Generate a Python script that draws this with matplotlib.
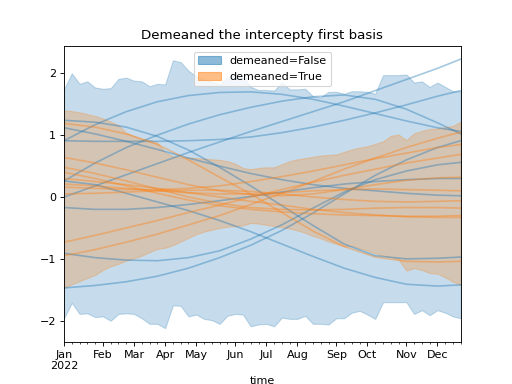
import matplotlib
matplotlib.use("Agg")
import matplotlib.pyplot as plt
from matplotlib.patches import Patch
import numpy as np
import pandas as pd

# weekly time index (52 weeks, Monday anchored)
dates = pd.date_range("2022-01-03", periods=52, freq="W-MON")

# HDI band, demeaned=False
false_upper = [1.74, 2.00, 1.83, 1.87, 1.77, 1.75, 1.76, 1.91, 1.93, 1.88, 1.87, 1.79, 1.83,
               1.82, 2.21, 2.18, 2.04, 1.95, 1.90, 1.86, 1.82, 1.93, 1.96, 1.95, 1.78, 1.73,
               1.73, 1.72, 1.85, 1.74, 1.74, 1.75, 1.63, 1.61, 1.70, 1.70, 1.67, 1.71, 1.71,
               1.70, 1.67, 1.97, 1.97, 1.97, 1.98, 1.85, 1.87, 1.78, 1.85, 1.78, 1.71, 1.71]
false_lower = [-1.96, -1.71, -1.89, -1.88, -1.94, -1.93, -2.00, -1.89, -1.88, -1.89, -1.96, -2.05, -2.05,
               -2.12, -1.75, -1.76, -1.93, -1.90, -1.97, -1.99, -2.05, -1.92, -1.89, -1.90, -2.09, -2.06,
               -2.05, -2.09, -1.95, -1.97, -1.97, -1.92, -2.05, -2.05, -2.06, -1.96, -1.96, -1.87, -1.84,
               -1.90, -1.97, -1.70, -1.70, -1.70, -1.70, -1.89, -1.83, -1.91, -1.83, -1.87, -1.93, -1.96]

# HDI band, demeaned=True
true_upper = [1.40, 1.39, 1.37, 1.34, 1.31, 1.27, 1.22, 1.16, 1.04, 0.99, 0.94, 0.92, 0.88,
              0.72, 0.66, 0.64, 0.64, 0.63, 0.62, 0.61, 0.60, 0.58, 0.54, 0.47, 0.45, 0.47,
              0.48, 0.48, 0.53, 0.58, 0.61, 0.63, 0.65, 0.67, 0.68, 0.69, 0.73, 0.77, 0.80,
              0.82, 0.86, 0.90, 0.99, 1.01, 0.92, 1.03, 1.07, 1.10, 1.11, 1.13, 1.15, 1.22]
true_lower = [-1.47, -1.41, -1.36, -1.31, -1.26, -1.18, -1.12, -1.08, -1.03, -0.99, -0.95, -0.89, -0.84,
              -0.82, -0.78, -0.72, -0.66, -0.60, -0.56, -0.53, -0.50, -0.48, -0.47, -0.46, -0.42, -0.43,
              -0.45, -0.47, -0.49, -0.51, -0.54, -0.58, -0.63, -0.67, -0.72, -0.76, -0.80, -0.79, -0.83,
              -0.87, -0.91, -0.95, -0.97, -1.01, -1.19, -1.15, -1.18, -1.23, -1.24, -1.30, -1.37, -1.42]

# sample curves, read every 4 weeks (+ last week)
sample_weeks = [0, 4, 8, 12, 16, 20, 24, 28, 32, 36, 40, 44, 48, 51]

false_samples = [
    [0.91, 1.17, 1.38, 1.54, 1.64, 1.69, 1.70, 1.66, 1.58, 1.47, 1.35, 1.23, 1.12, 1.06],
    [0.26, 0.55, 0.80, 1.00, 1.18, 1.33, 1.45, 1.55, 1.62, 1.65, 1.58, 1.42, 1.20, 1.02],
    [0.00, 0.18, 0.36, 0.54, 0.72, 0.89, 1.06, 1.22, 1.38, 1.54, 1.72, 1.90, 2.08, 2.23],
    [0.91, 0.90, 0.90, 0.90, 0.91, 0.93, 0.97, 1.04, 1.13, 1.24, 1.36, 1.49, 1.63, 1.72],
    [1.24, 1.21, 1.13, 0.98, 0.76, 0.48, 0.18, -0.14, -0.46, -0.76, -0.95, -1.00, -0.99, -0.97],
    [0.26, 0.20, 0.06, -0.08, -0.22, -0.38, -0.56, -0.76, -0.96, -1.15, -1.30, -1.41, -1.44, -1.42],
    [-1.47, -1.43, -1.37, -1.28, -1.15, -0.98, -0.78, -0.54, -0.26, 0.05, 0.35, 0.60, 0.80, 0.91],
    [-0.91, -0.98, -1.02, -1.03, -0.98, -0.87, -0.68, -0.45, -0.18, 0.08, 0.28, 0.42, 0.52, 0.56],
    [-0.17, -0.20, -0.20, -0.17, -0.12, -0.06, 0.01, 0.08, 0.15, 0.21, 0.25, 0.28, 0.30, 0.30],
    [1.12, 1.02, 0.90, 0.77, 0.63, 0.50, 0.38, 0.28, 0.20, 0.14, 0.10, 0.06, 0.03, 0.02],
]
true_samples = [
    [1.19, 1.13, 1.02, 0.85, 0.60, 0.32, 0.05, -0.25, -0.55, -0.80, -0.97, -1.04, -1.05, -1.04],
    [-0.73, -0.62, -0.50, -0.38, -0.25, -0.13, 0.00, 0.12, 0.24, 0.35, 0.45, 0.55, 0.63, 0.69],
    [-0.95, -0.85, -0.73, -0.60, -0.45, -0.30, -0.12, 0.06, 0.25, 0.45, 0.63, 0.80, 0.95, 1.05],
    [0.64, 0.55, 0.44, 0.32, 0.20, 0.10, 0.04, 0.02, 0.05, 0.12, 0.20, 0.27, 0.31, 0.32],
    [0.48, 0.38, 0.26, 0.13, 0.00, -0.10, -0.17, -0.20, -0.21, -0.20, -0.18, -0.17, -0.17, -0.18],
    [0.40, 0.30, 0.18, 0.06, -0.05, -0.14, -0.20, -0.24, -0.27, -0.29, -0.30, -0.31, -0.31, -0.30],
    [0.21, 0.18, 0.14, 0.10, 0.07, 0.05, 0.05, 0.07, 0.10, 0.12, 0.13, 0.12, 0.11, 0.10],
    [0.05, 0.06, 0.08, 0.10, 0.11, 0.11, 0.09, 0.05, 0.00, -0.04, -0.07, -0.08, -0.07, -0.06],
    [0.30, 0.25, 0.20, 0.14, 0.07, 0.00, -0.07, -0.13, -0.20, -0.25, -0.29, -0.32, -0.33, -0.33],
    [0.16, 0.14, 0.12, 0.12, 0.14, 0.18, 0.25, 0.33, 0.42, 0.52, 0.62, 0.71, 0.80, 0.85],
]

fig, ax = plt.subplots(figsize=(6.4, 4.8), dpi=80)
x = np.arange(len(dates))

ax.fill_between(x, false_lower, false_upper, color="C0", alpha=0.25)
for s in false_samples:
    ax.plot(sample_weeks, s, color="C0", alpha=0.4)
ax.fill_between(x, true_lower, true_upper, color="C1", alpha=0.25)
for s in true_samples:
    ax.plot(sample_weeks, s, color="C1", alpha=0.4)

# pandas-style period axis: month ticks at first week of each month
month_starts = [i for i in range(len(dates)) if i == 0 or dates[i].month != dates[i - 1].month]
labels = [dates[i].strftime("%b") for i in month_starts]
labels[0] = labels[0] + "\n" + str(dates[0].year)
ax.set_xticks(month_starts)
ax.set_xticklabels(labels)
ax.set_xticks(x, minor=True)
ax.set_xlim(x[0], x[-1])
ax.set_ylim(-2.34, 2.44)
ax.set_xlabel("time")
ax.set_title("Demeaned the intercepty first basis")

handles = [Patch(color="C0", alpha=0.5), Patch(color="C1", alpha=0.5)]
ax.legend(handles, ["demeaned=False", "demeaned=True"], loc="upper center")

fig.savefig("out.png", dpi=80)
